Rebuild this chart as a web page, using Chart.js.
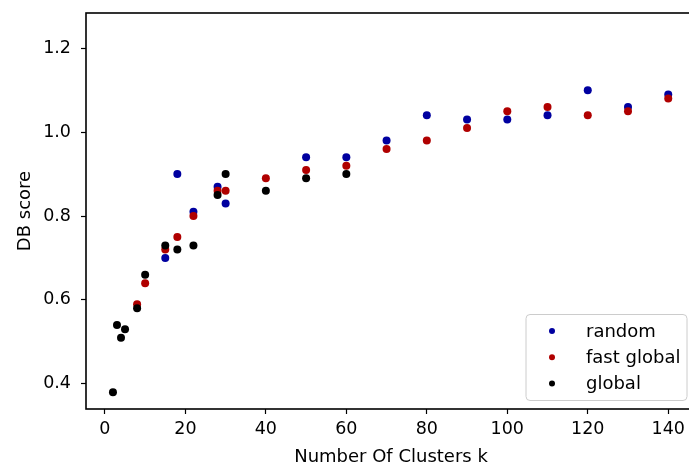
<!DOCTYPE html>
<html>
<head>
<meta charset="utf-8">
<script src="https://cdn.jsdelivr.net/npm/chart.js@4/dist/chart.umd.min.js"></script>
<style>
html,body{margin:0;padding:0;background:#fff;overflow:hidden;}
#wrap{position:relative;width:700px;height:466px;}
</style>
</head>
<body>
<div id="wrap"><canvas id="c"></canvas></div>
<script>
const seriesNames = ["random", "fast global", "global"];
const seriesColors = ["#0000a0", "#b00000", "#000000"];

const kRandom = [15,18,22,28,30,50,60,70,80,90,100,110,120,130,140];
const dbRandom = [0.70,0.90,0.81,0.87,0.83,0.94,0.94,0.98,1.04,1.03,1.03,1.04,1.10,1.06,1.09];

const kFast = [8,10,15,18,22,28,30,40,50,60,70,80,90,100,110,120,130,140];
const dbFast = [0.59,0.64,0.72,0.75,0.80,0.86,0.86,0.89,0.91,0.92,0.96,0.98,1.01,1.05,1.06,1.04,1.05,1.08];

const kGlobal = [2,3,4,5,8,10,15,18,22,28,30,40,50,60];
const dbGlobal = [0.38,0.54,0.51,0.53,0.58,0.66,0.73,0.72,0.73,0.85,0.90,0.86,0.89,0.90];

const xTicks = [0,20,40,60,80,100,120,140];
const yTicks = [0.4,0.6,0.8,1.0,1.2];

const xTitle = "Number Of Clusters k";
const yTitle = "DB score";

function pts(xs, ys){ return xs.map((x,i)=>({x:x, y:ys[i]})); }

const FONT = "'DejaVu Sans', sans-serif";

const frameAndLegend = {
  id: 'frameAndLegend',
  afterDatasetsDraw(chart){
    const ctx = chart.ctx, a = chart.chartArea;
    ctx.save();
    ctx.strokeStyle = '#000';
    ctx.lineWidth = 1.6;
    ctx.strokeRect(a.left, a.top, a.right - a.left, a.bottom - a.top);
    // legend (lower right, inside axes)
    const w = 161, h = 86;
    const x0 = a.right - 9 - w, y0 = a.bottom - 8.5 - h;
    ctx.beginPath();
    if (ctx.roundRect) ctx.roundRect(x0, y0, w, h, 4); else ctx.rect(x0, y0, w, h);
    ctx.fillStyle = 'rgba(255,255,255,0.8)';
    ctx.fill();
    ctx.strokeStyle = '#cccccc';
    ctx.lineWidth = 1;
    ctx.stroke();
    ctx.font = "18px " + FONT;
    ctx.textBaseline = 'alphabetic';
    ctx.textAlign = 'left';
    chart.data.datasets.forEach((ds, i) => {
      const base = y0 + 22 + i * 26.2;
      ctx.beginPath();
      ctx.arc(x0 + 26, base - 5.5, 3, 0, Math.PI * 2);
      ctx.fillStyle = ds.backgroundColor;
      ctx.fill();
      ctx.fillStyle = '#000';
      ctx.fillText(ds.label, x0 + 60, base);
    });
    ctx.restore();
  }
};

new Chart(document.getElementById('c'), {
  type: 'scatter',
  data: {
    datasets: [
      {label: seriesNames[0], data: pts(kRandom, dbRandom), backgroundColor: seriesColors[0], borderColor: seriesColors[0], pointRadius: 4, borderWidth: 0, order: 3},
      {label: seriesNames[1], data: pts(kFast, dbFast), backgroundColor: seriesColors[1], borderColor: seriesColors[1], pointRadius: 4, borderWidth: 0, order: 2},
      {label: seriesNames[2], data: pts(kGlobal, dbGlobal), backgroundColor: seriesColors[2], borderColor: seriesColors[2], pointRadius: 4, borderWidth: 0, order: 1}
    ]
  },
  options: {
    responsive: true,
    maintainAspectRatio: false,
    animation: false,
    layout: {padding: {left: 0, top: 13, right: 3, bottom: 0}},
    plugins: {legend: {display: false}, tooltip: {enabled: false}},
    scales: {
      x: {
        type: 'linear', min: -4.7, max: 146.9,
        afterBuildTicks: s => { s.ticks = xTicks.map(v => ({value: v})); },
        afterFit: s => { s.height = 57; s.paddingLeft = 0; s.paddingRight = 0; },
        grid: {display: true, drawOnChartArea: false, drawTicks: true, tickLength: 5, color: '#000', tickColor: '#000', tickWidth: 1.2},
        border: {display: false},
        ticks: {font: {family: FONT, size: 17.5}, color: '#000', padding: 5, maxRotation: 0, callback: v => String(v)},
        title: {display: true, text: xTitle, font: {family: FONT, size: 18}, color: '#000', padding: {top: 0, bottom: -2}}
      },
      y: {
        type: 'linear', min: 0.340, max: 1.284,
        afterBuildTicks: s => { s.ticks = yTicks.map(v => ({value: v})); },
        afterFit: s => { s.width = 86; s.paddingTop = 0; s.paddingBottom = 0; },
        grid: {display: true, drawOnChartArea: false, drawTicks: true, tickLength: 5, color: '#000', tickColor: '#000', tickWidth: 1.2},
        border: {display: false},
        ticks: {font: {family: FONT, size: 17.5}, color: '#000', padding: 10, callback: v => Number(v).toFixed(1)},
        title: {display: true, text: yTitle, font: {family: FONT, size: 18}, color: '#000', padding: {top: 15, bottom: 0}}
      }
    }
  },
  plugins: [frameAndLegend]
});
</script>
</body>
</html>
